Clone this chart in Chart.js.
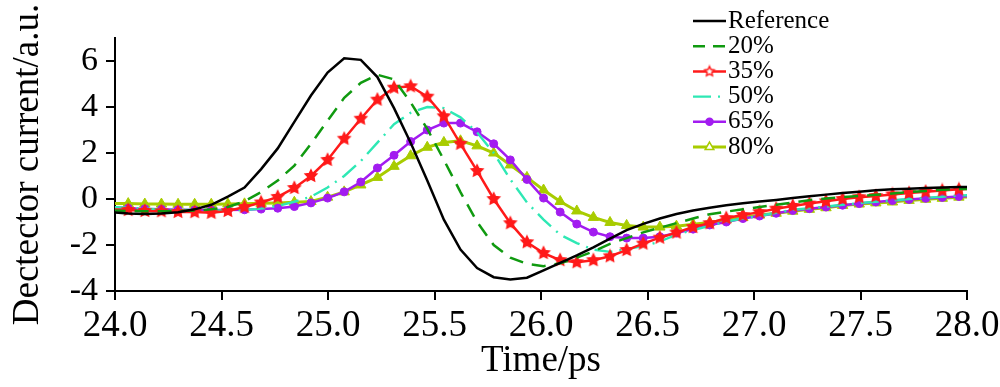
<!DOCTYPE html>
<html>
<head>
<meta charset="utf-8">
<script src="https://cdn.jsdelivr.net/npm/chart.js@4.4.1/dist/chart.umd.min.js"></script>
<style>
  html, body { margin: 0; padding: 0; background: #fff; }
  #wrap { width: 1000px; height: 387px; }
</style>
</head>
<body>
<div id="wrap"><canvas id="chart" width="1000" height="387"></canvas></div>
<script>
// 时间采样点 (ps)
const times = [
  23.984, 24.062, 24.140, 24.218, 24.296, 24.374, 24.452, 24.530, 24.608, 24.686,
  24.764, 24.842, 24.920, 24.998, 25.076, 25.154, 25.232, 25.310, 25.388, 25.466,
  25.544, 25.622, 25.700, 25.778, 25.856, 25.934, 26.012, 26.090, 26.168, 26.246,
  26.324, 26.402, 26.480, 26.558, 26.636, 26.714, 26.792, 26.870, 26.948, 27.026,
  27.104, 27.182, 27.260, 27.338, 27.416, 27.494, 27.572, 27.650, 27.728, 27.806,
  27.884, 27.962, 28.040
];

const seriesLabels = ['Reference', '20%', '35%', '50%', '65%', '80%'];

const reference = [
  -0.58, -0.63, -0.65, -0.63, -0.58, -0.45, -0.25, 0.1, 0.5, 1.3,
  2.2, 3.35, 4.5, 5.5, 6.12, 6.05, 5.3, 3.95, 2.45, 0.8,
  -0.9, -2.2, -3.0, -3.4, -3.5, -3.42, -3.1, -2.78, -2.45, -2.1,
  -1.72, -1.35, -1.08, -0.85, -0.65, -0.5, -0.38, -0.27, -0.18, -0.11,
  -0.04, 0.04, 0.12, 0.19, 0.26, 0.32, 0.38, 0.42, 0.45, 0.48,
  0.5, 0.52, 0.52
];

const p20 = [
  -0.5, -0.52, -0.53, -0.53, -0.52, -0.5, -0.45, -0.35, -0.1, 0.3,
  0.8, 1.45, 2.4, 3.4, 4.4, 5.05, 5.4, 5.2, 4.2, 3.05,
  1.7, 0.3, -1.0, -2.0, -2.55, -2.82, -2.92, -2.8, -2.55, -2.28,
  -1.95, -1.7, -1.45, -1.25, -1.05, -0.85, -0.66, -0.55, -0.45, -0.35,
  -0.25, -0.15, -0.05, 0.02, 0.08, 0.13, 0.18, 0.24, 0.3, 0.35,
  0.4, 0.43, 0.45
];

const p35 = [
  -0.45, -0.48, -0.52, -0.53, -0.56, -0.57, -0.6, -0.52, -0.35, -0.15,
  0.09, 0.48, 1.0, 1.7, 2.62, 3.49, 4.32, 4.84, 4.9, 4.45,
  3.6, 2.4, 1.22, 0.0, -1.05, -1.88, -2.35, -2.66, -2.75, -2.66,
  -2.49, -2.22, -1.94, -1.68, -1.46, -1.22, -1.05, -0.83, -0.7, -0.57,
  -0.42, -0.3, -0.2, -0.1, 0.0, 0.08, 0.13, 0.2, 0.26, 0.32,
  0.37, 0.42, 0.44
];

const p50 = [
  -0.35, -0.38, -0.42, -0.45, -0.47, -0.48, -0.5, -0.5, -0.48, -0.42,
  -0.3, -0.12, 0.1, 0.5, 1.0, 1.65, 2.45, 3.25, 3.75, 4.0,
  3.95, 3.55, 2.9, 2.0, 0.85, -0.15, -0.9, -1.55, -1.92, -2.2,
  -2.3, -2.18, -2.05, -1.85, -1.55, -1.35, -1.17, -0.98, -0.85, -0.74,
  -0.6, -0.47, -0.4, -0.33, -0.25, -0.18, -0.12, -0.06, 0.0, 0.05,
  0.1, 0.15, 0.18
];

const p65 = [
  -0.35, -0.4, -0.43, -0.45, -0.47, -0.48, -0.48, -0.48, -0.47, -0.44,
  -0.4, -0.33, -0.17, 0.04, 0.31, 0.74, 1.35, 1.9, 2.5, 3.0,
  3.3, 3.3, 2.92, 2.4, 1.7, 0.85, 0.04, -0.57, -1.09, -1.44,
  -1.64, -1.7, -1.7, -1.64, -1.48, -1.31, -1.13, -1.0, -0.85, -0.74,
  -0.62, -0.5, -0.42, -0.35, -0.27, -0.2, -0.13, -0.07, -0.02, 0.03,
  0.07, 0.11, 0.13
];

const p80 = [
  -0.2, -0.2, -0.22, -0.22, -0.23, -0.23, -0.23, -0.22, -0.21, -0.19,
  -0.17, -0.14, -0.11, 0.08, 0.31, 0.61, 0.94, 1.42, 1.88, 2.25,
  2.46, 2.53, 2.31, 2.0, 1.48, 0.94, 0.39, -0.11, -0.52, -0.8,
  -1.02, -1.15, -1.22, -1.22, -1.18, -1.1, -1.02, -0.9, -0.8, -0.7,
  -0.62, -0.53, -0.45, -0.38, -0.28, -0.22, -0.17, -0.13, -0.06, -0.01,
  0.03, 0.08, 0.1
];

// 坐标轴范围
const xMin = 24, xMax = 28, xStep = 0.5;
const yMin = -4, yMax = 7, yStep = 2;

const serif = '"Times New Roman", "Liberation Serif", serif';

// 实心五角星标记
function makeStar(color, r, fill) {
  const c = document.createElement('canvas');
  const s = Math.ceil(r * 2 + 4);
  c.width = s; c.height = s;
  const g = c.getContext('2d');
  g.beginPath();
  for (let i = 0; i < 10; i++) {
    const rad = i % 2 === 0 ? r : r * 0.5;
    const a = -Math.PI / 2 + i * Math.PI / 5;
    const px = s / 2 + rad * Math.cos(a);
    const py = s / 2 + rad * Math.sin(a);
    if (i === 0) g.moveTo(px, py); else g.lineTo(px, py);
  }
  g.closePath();
  g.fillStyle = fill;
  g.fill();
  g.lineWidth = 1.5;
  g.strokeStyle = color;
  g.stroke();
  return c;
}

const starMark = makeStar('#ff1a1a', 6, '#ff1a1a');
const starLegend = makeStar('#ff1a1a', 5, '#ffffff');

function toPoints(values) {
  return times.map((t, i) => ({ x: t, y: values[i] }));
}

function radiusFor(r) {
  return ctx => {
    const t = times[ctx.dataIndex];
    return (t < xMin || t > xMax) ? 0 : r;
  };
}

const datasets = [
  {
    label: seriesLabels[0], data: toPoints(reference),
    borderColor: '#000000', borderWidth: 2.5, pointRadius: 0
  },
  {
    label: seriesLabels[1], data: toPoints(p20),
    borderColor: '#109a10', borderWidth: 2.5, borderDash: [14, 9], pointRadius: 0
  },
  {
    label: seriesLabels[2], data: toPoints(p35),
    borderColor: '#ff1a1a', borderWidth: 2.5,
    pointStyle: starMark, pointRadius: radiusFor(6),
    legendStyle: starLegend
  },
  {
    label: seriesLabels[3], data: toPoints(p50),
    borderColor: '#2ee8b4', borderWidth: 2.4, borderDash: [18, 7, 2, 7], pointRadius: 0
  },
  {
    label: seriesLabels[4], data: toPoints(p65),
    borderColor: '#a21cf0', backgroundColor: '#a21cf0', borderWidth: 2.5,
    pointStyle: 'circle', pointRadius: radiusFor(4), pointBorderWidth: 1,
    legendStyle: 'circle'
  },
  {
    label: seriesLabels[5], data: toPoints(p80),
    borderColor: '#a8cc00', backgroundColor: '#a8cc00', borderWidth: 3,
    pointStyle: 'triangle', pointRadius: radiusFor(6), pointBorderWidth: 1,
    legendStyle: 'triangle'
  }
];

datasets.forEach(ds => {
  ds.fill = false;
  ds.tension = 0;
  ds.clip = 0;
  ds.pointHoverRadius = 0;
});

// 右上角图例
const legendX = 693, legendTop = 21, legendRow = 25.2;
const cornerLegend = {
  id: 'cornerLegend',
  afterDraw(chart) {
    const ctx = chart.ctx;
    ctx.save();
    chart.data.datasets.forEach((ds, i) => {
      const y = legendTop + i * legendRow;
      ctx.strokeStyle = ds.borderColor;
      ctx.lineWidth = ds.borderWidth;
      ctx.setLineDash(i === 1 ? [12, 8] : (ds.borderDash || []));
      ctx.beginPath();
      ctx.moveTo(legendX, y);
      ctx.lineTo(legendX + 33, y);
      ctx.stroke();
      ctx.setLineDash([]);

      if (ds.legendStyle) {
        const mx = legendX + 16.5;
        if (ds.legendStyle instanceof HTMLCanvasElement) {
          ctx.drawImage(ds.legendStyle, mx - ds.legendStyle.width / 2, y - ds.legendStyle.height / 2);
        } else {
          ctx.fillStyle = ds.legendStyle === 'triangle' ? '#ffffff' : ds.borderColor;
          ctx.strokeStyle = ds.borderColor;
          ctx.lineWidth = 1.5;
          Chart.helpers.drawPoint(ctx, {
            pointStyle: ds.legendStyle, radius: ds.legendStyle === 'triangle' ? 5 : 3.5,
            rotation: 0, borderWidth: 1.5
          }, mx, y);
        }
      }

      ctx.fillStyle = '#000';
      ctx.font = '25px ' + serif;
      ctx.textBaseline = 'middle';
      ctx.textAlign = 'left';
      ctx.fillText(ds.label, legendX + 35, y);
    });
    ctx.restore();
  }
};

new Chart(document.getElementById('chart').getContext('2d'), {
  type: 'line',
  data: { datasets: datasets },
  options: {
    responsive: false,
    animation: false,
    devicePixelRatio: 1,
    layout: { padding: { top: 38, right: 33, left: 0, bottom: 0 } },
    plugins: {
      legend: { display: false },
      tooltip: { enabled: false }
    },
    scales: {
      x: {
        type: 'linear',
        min: xMin, max: xMax,
        afterFit: scale => {
          scale.height = 96;
          scale.paddingLeft = 0;
          scale.paddingRight = 0;
        },
        ticks: {
          stepSize: xStep,
          color: '#000',
          font: { family: serif, size: 37 },
          padding: 4,
          maxRotation: 0,
          callback: v => Number(v).toFixed(1)
        },
        grid: { drawOnChartArea: false, drawTicks: true, tickLength: 9, color: '#000', lineWidth: 2 },
        border: { display: true, color: '#000', width: 2 },
        title: {
          display: true, text: 'Time/ps', color: '#000',
          font: { family: serif, size: 37 }, padding: { top: 0, bottom: 4 }
        }
      },
      y: {
        min: yMin, max: yMax,
        afterFit: scale => { scale.width = 115; },
        ticks: {
          stepSize: yStep,
          includeBounds: false,
          color: '#000',
          font: { family: serif, size: 34 },
          padding: 8,
          callback: v => String(v)
        },
        grid: { drawOnChartArea: false, drawTicks: true, tickLength: 9, color: '#000', lineWidth: 2 },
        border: { display: true, color: '#000', width: 2 },
        title: {
          display: true, text: 'Dectector current/a.u.', color: '#000',
          font: { family: serif, size: 37 }, padding: { top: 6, bottom: 0 }
        }
      }
    }
  },
  plugins: [cornerLegend]
});
</script>
</body>
</html>
